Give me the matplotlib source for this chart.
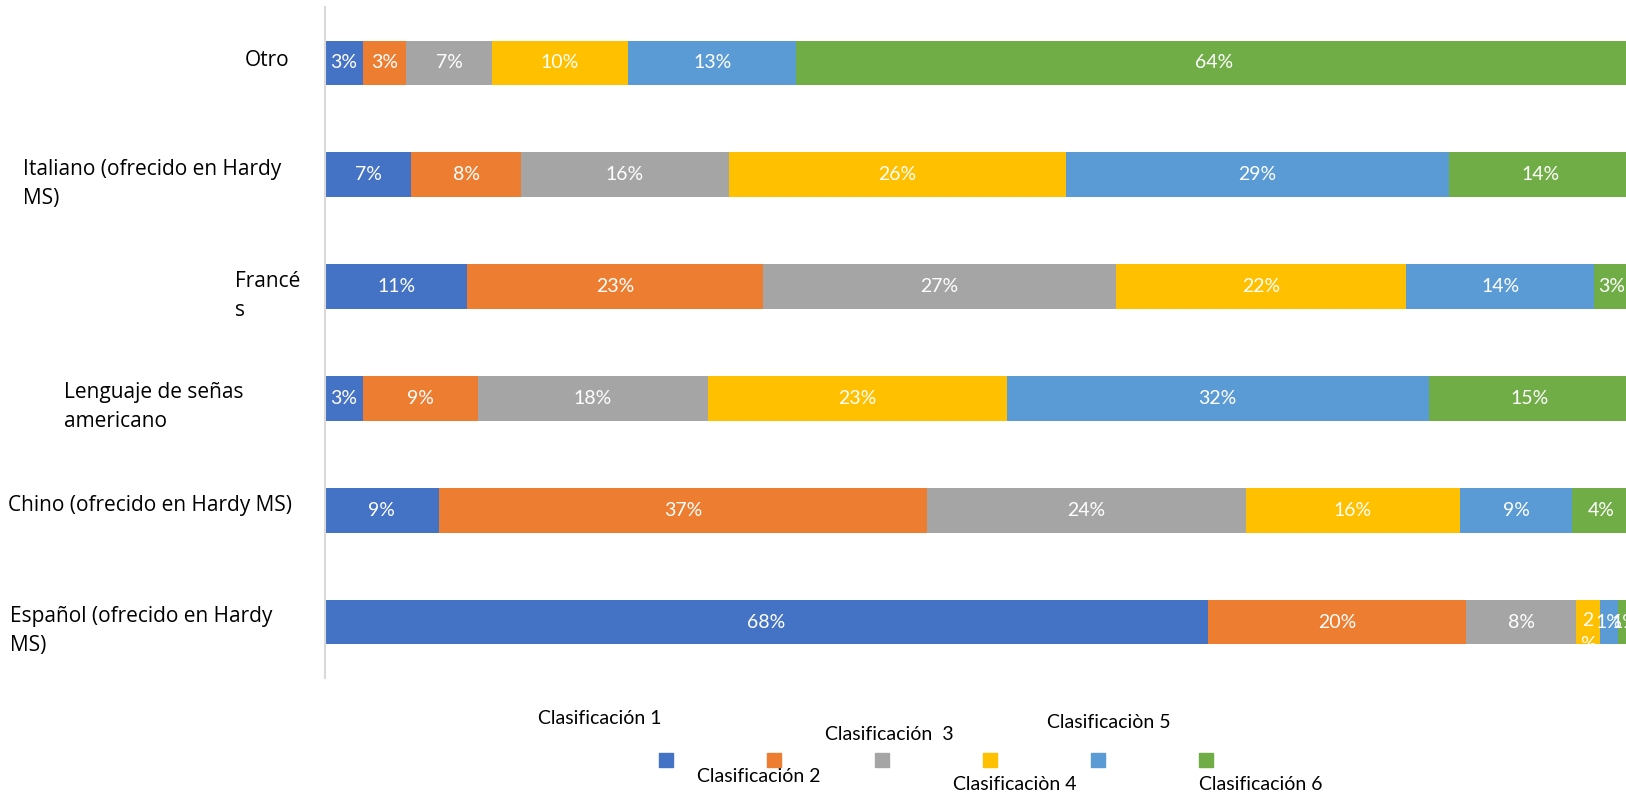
import matplotlib
matplotlib.use("Agg")
import matplotlib.pyplot as plt
from matplotlib.patches import Rectangle
from matplotlib.transforms import ScaledTranslation

# data (percent per language, Clasificación 1..6)
categories = ["Español (ofrecido en Hardy\nMS)",
              "Chino (ofrecido en Hardy MS)",
              "Lenguaje de señas\namericano",
              "Francé\ns",
              "Italiano (ofrecido en Hardy\nMS)",
              "Otro"]
series_names = ["Clasificación 1", "Clasificación 2", "Clasificación  3",
                "Clasificaciòn 4", "Clasificaciòn 5", "Clasificación 6"]
clas1 = [67.6, 8.7, 2.9, 10.9, 6.6, 2.9]
clas2 = [19.8, 37.4, 8.8, 22.6, 8.4, 3.3]
clas3 = [8.4, 24.4, 17.6, 27.1, 15.9, 6.6]
clas4 = [1.8, 16.4, 22.9, 22.2, 25.8, 10.4]
clas5 = [1.4, 8.6, 32.3, 14.4, 29.4, 12.9]
clas6 = [1.0, 4.4, 15.4, 2.6, 13.9, 63.9]
colors = ["#4472C4", "#ED7D31", "#A5A5A5", "#FFC000", "#5B9BD5", "#70AD47"]

W, H = 1626, 794


def fx(x):
    return x / W


def fy(y):
    return 1 - y / H


fig = plt.figure(figsize=(W / 100, H / 100), dpi=100)
ax = fig.add_axes([fx(325), fy(678), 1306 / W, 671 / H])

# shift used for the wrapped label so its first line sits on the bar centre
wrap_shift = ax.transData + ScaledTranslation(0, 0.10, fig.dpi_scale_trans)

series = [clas1, clas2, clas3, clas4, clas5, clas6]
lefts = [0.0] * len(categories)
ypos = list(range(len(categories)))
for vals, col in zip(series, colors):
    ax.barh(ypos, vals, left=lefts, height=0.4, color=col)
    for i, v in enumerate(vals):
        x = lefts[i] + v / 2
        if 1.5 < v < 2.0:
            # very narrow segment: the label wraps like in the original
            ax.text(x, i, f"{v:.0f}\n%", ha="center", va="top", color="white",
                    fontsize=14, family="Lato", linespacing=1.5,
                    transform=wrap_shift)
        else:
            ax.text(x, i, f"{v:.0f}%", ha="center", va="center",
                    color="white", fontsize=14, family="Lato")
    lefts = [l + v for l, v in zip(lefts, vals)]

ax.set_xlim(0, 100)
ax.set_ylim(-0.5, len(categories) - 0.5)
for s in ["top", "right", "bottom"]:
    ax.spines[s].set_visible(False)
ax.spines["left"].set_color("#d9d9d9")
ax.spines["left"].set_linewidth(1.5)
ax.tick_params(left=False, bottom=False, labelleft=False, labelbottom=False)

# category labels (placed like the original wrapped labels)
label_x = [10, 8, 64, 235, 23, 245]
label_y = [631, 505, 407, 296, 184, 60]
for txt, x, y in zip(categories, label_x, label_y):
    fig.text(fx(x), fy(y), txt, ha="left", va="center", fontsize=15,
             family="Open Sans", linespacing=1.45, multialignment="left")

# legend, scattered like the reference
leg_text_x = [538, 697, 825, 953, 1047, 1199]
leg_text_y = [719, 777, 735, 785, 722, 785]
leg_box_x = [666, 774, 882, 990, 1098, 1206]
for name, col, tx, ty, bx in zip(series_names, colors, leg_text_x, leg_text_y, leg_box_x):
    fig.patches.append(Rectangle((fx(bx - 7), fy(767)), 14 / W, 14 / H,
                                 transform=fig.transFigure, color=col))
    fig.text(fx(tx), fy(ty), name, ha="left", va="center", fontsize=14,
             family="Lato")

fig.savefig("out.png", dpi=100)
